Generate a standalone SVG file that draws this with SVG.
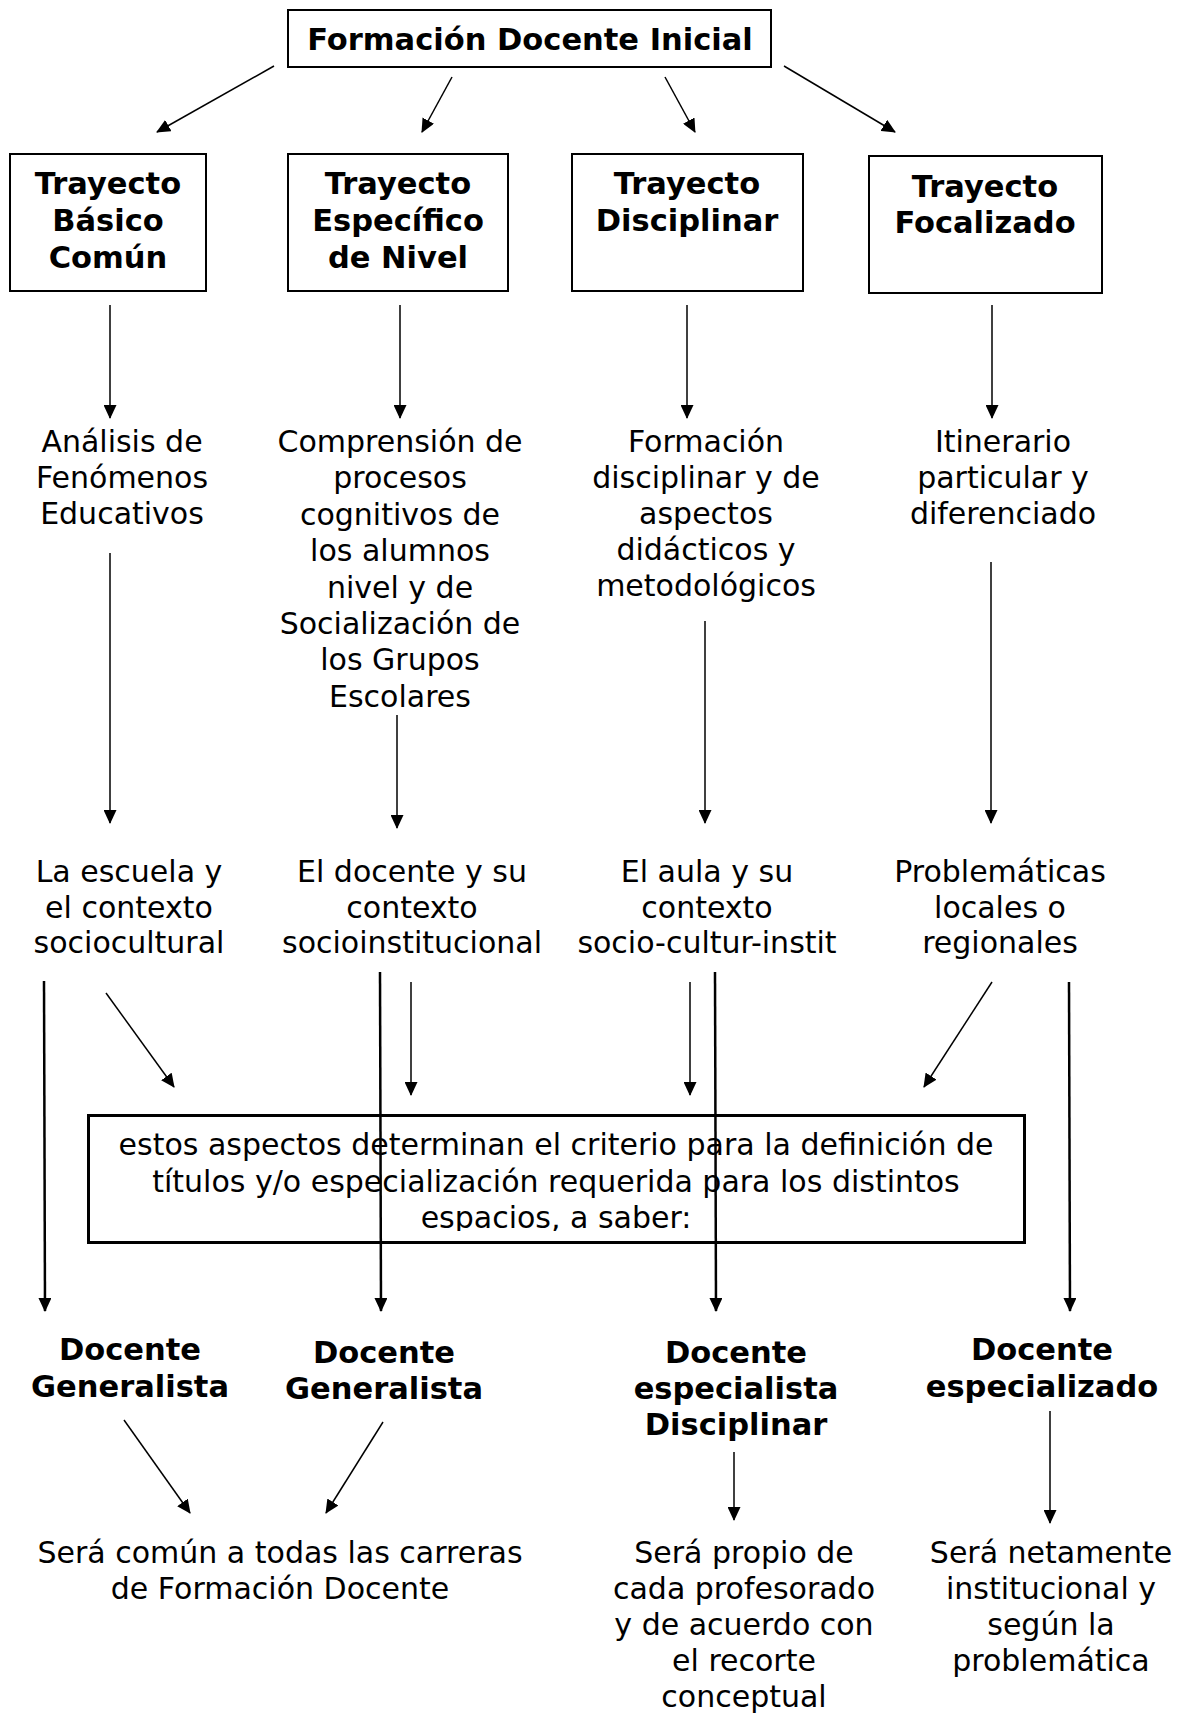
<svg xmlns="http://www.w3.org/2000/svg" width="1186" height="1716" viewBox="0 0 1186 1716">
<defs>
<style>
.b{font-family:"DejaVu Sans","Verdana",sans-serif;font-weight:bold;font-size:30.5px;fill:#000;text-anchor:middle}
.r{font-family:"DejaVu Sans","Verdana",sans-serif;font-size:30px;fill:#000;text-anchor:middle}
.box{fill:#fff;stroke:#000;stroke-width:2}
.ln{stroke:#000;stroke-width:1.5;fill:none;marker-end:url(#ah)}
.lt{stroke:#000;stroke-width:2.5;fill:none;marker-end:url(#ah)}
</style>
<marker id="ah" viewBox="0 0 14 13" markerWidth="14" markerHeight="13" refX="13" refY="6.5" orient="auto" markerUnits="userSpaceOnUse">
<path d="M0,0 L14,6.5 L0,13 z" fill="#000"/>
</marker>
<clipPath id="clipMid"><rect x="88" y="1115" width="936" height="116"/></clipPath>
</defs>
<rect width="1186" height="1716" fill="#fff"/>

<g id="top">
<rect class="box" x="288" y="10" width="483" height="57"/>
<text class="b" x="530" y="50">Formación Docente Inicial</text>
</g>

<g id="t1">
<rect class="box" x="10" y="154" width="196" height="137"/>
<text class="b" x="108" y="194">Trayecto<tspan x="108" y="231">Básico</tspan><tspan x="108" y="268">Común</tspan></text>
</g>
<g id="t2">
<rect class="box" x="288" y="154" width="220" height="137"/>
<text class="b" x="398" y="194">Trayecto<tspan x="398" y="231">Específico</tspan><tspan x="398" y="268">de Nivel</tspan></text>
</g>
<g id="t3">
<rect class="box" x="572" y="154" width="231" height="137"/>
<text class="b" x="687" y="194">Trayecto<tspan x="687" y="231">Disciplinar</tspan></text>
</g>
<g id="t4">
<rect class="box" x="869" y="156" width="233" height="137"/>
<text class="b" x="985" y="197">Trayecto<tspan x="985" y="233">Focalizado</tspan></text>
</g>

<g id="m1">
<text class="r" x="122" y="452">Análisis de<tspan x="122" y="488">Fenómenos</tspan><tspan x="122" y="524">Educativos</tspan></text>
</g>
<g id="m2">
<text class="r" x="400" y="452">Comprensión de<tspan x="400" y="488">procesos</tspan><tspan x="400" y="525">cognitivos de</tspan><tspan x="400" y="561">los alumnos</tspan><tspan x="400" y="598">nivel y de</tspan><tspan x="400" y="634">Socialización de</tspan><tspan x="400" y="670">los Grupos</tspan><tspan x="400" y="707">Escolares</tspan></text>
</g>
<g id="m3">
<text class="r" x="706" y="452">Formación<tspan x="706" y="488">disciplinar y de</tspan><tspan x="706" y="524">aspectos</tspan><tspan x="706" y="560">didácticos y</tspan><tspan x="706" y="596">metodológicos</tspan></text>
</g>
<g id="m4">
<text class="r" x="1003" y="452">Itinerario<tspan x="1003" y="488">particular y</tspan><tspan x="1003" y="524">diferenciado</tspan></text>
</g>

<g id="c1">
<text class="r" x="129" y="882">La escuela y<tspan x="129" y="918">el contexto</tspan><tspan x="129" y="953">sociocultural</tspan></text>
</g>
<g id="c2">
<text class="r" x="412" y="882">El docente y su<tspan x="412" y="918">contexto</tspan><tspan x="412" y="953">socioinstitucional</tspan></text>
</g>
<g id="c3">
<text class="r" x="707" y="882">El aula y su<tspan x="707" y="918">contexto</tspan><tspan x="707" y="953">socio-cultur-instit</tspan></text>
</g>
<g id="c4">
<text class="r" x="1000" y="882">Problemáticas<tspan x="1000" y="918">locales o</tspan><tspan x="1000" y="953">regionales</tspan></text>
</g>

<g id="criterio">
<rect x="88.5" y="1115.5" width="936" height="127" fill="#fff" stroke="#000" stroke-width="3"/>
<g clip-path="url(#clipMid)">
<text class="r" x="556" y="1155">estos aspectos determinan el criterio para la definición de<tspan x="556" y="1192">títulos y/o especialización requerida para los distintos</tspan><tspan x="556" y="1228">espacios, a saber:</tspan></text>
</g>
</g>

<g id="d1">
<text class="b" x="130" y="1360">Docente<tspan x="130" y="1397">Generalista</tspan></text>
</g>
<g id="d2">
<text class="b" x="384" y="1363">Docente<tspan x="384" y="1399">Generalista</tspan></text>
</g>
<g id="d3">
<text class="b" x="736" y="1363">Docente<tspan x="736" y="1399">especialista</tspan><tspan x="736" y="1435">Disciplinar</tspan></text>
</g>
<g id="d4">
<text class="b" x="1042" y="1360">Docente<tspan x="1042" y="1397">especializado</tspan></text>
</g>

<g id="e1">
<text class="r" x="280" y="1563">Será común a todas las carreras<tspan x="280" y="1599">de Formación Docente</tspan></text>
</g>
<g id="e2">
<text class="r" x="744" y="1563">Será propio de<tspan x="744" y="1599">cada profesorado</tspan><tspan x="744" y="1635">y de acuerdo con</tspan><tspan x="744" y="1671">el recorte</tspan><tspan x="744" y="1707">conceptual</tspan></text>
</g>
<g id="e3">
<text class="r" x="1051" y="1563">Será netamente<tspan x="1051" y="1599">institucional y</tspan><tspan x="1051" y="1635">según la</tspan><tspan x="1051" y="1671">problemática</tspan></text>
</g>

<g id="connectors">
<line class="ln" x1="274" y1="66" x2="157" y2="132"/>
<line class="ln" x1="452" y1="77" x2="422" y2="132"/>
<line class="ln" x1="665" y1="77" x2="695" y2="132"/>
<line class="ln" x1="784" y1="66" x2="895" y2="132"/>

<line class="ln" x1="110" y1="305" x2="110" y2="418"/>
<line class="ln" x1="400" y1="305" x2="400" y2="418"/>
<line class="ln" x1="687" y1="305" x2="687" y2="418"/>
<line class="ln" x1="992" y1="305" x2="992" y2="418"/>

<line class="ln" x1="110" y1="553" x2="110" y2="823"/>
<line class="ln" x1="397" y1="715" x2="397" y2="828"/>
<line class="ln" x1="705" y1="621" x2="705" y2="823"/>
<line class="ln" x1="991" y1="562" x2="991" y2="823"/>

<line class="lt" x1="44" y1="981" x2="45" y2="1311"/>
<line class="ln" x1="106" y1="993" x2="174" y2="1087"/>
<line class="lt" x1="380" y1="972" x2="381" y2="1311"/>
<line class="ln" x1="411" y1="982" x2="411" y2="1095"/>
<line class="ln" x1="690" y1="982" x2="690" y2="1095"/>
<line class="lt" x1="715" y1="972" x2="716" y2="1311"/>
<line class="ln" x1="992" y1="982" x2="924" y2="1087"/>
<line class="lt" x1="1069" y1="982" x2="1070" y2="1311"/>

<line class="ln" x1="124" y1="1420" x2="190" y2="1513"/>
<line class="ln" x1="383" y1="1422" x2="326" y2="1513"/>
<line class="ln" x1="734" y1="1452" x2="734" y2="1520"/>
<line class="ln" x1="1050" y1="1411" x2="1050" y2="1523"/>
</g>
</svg>
